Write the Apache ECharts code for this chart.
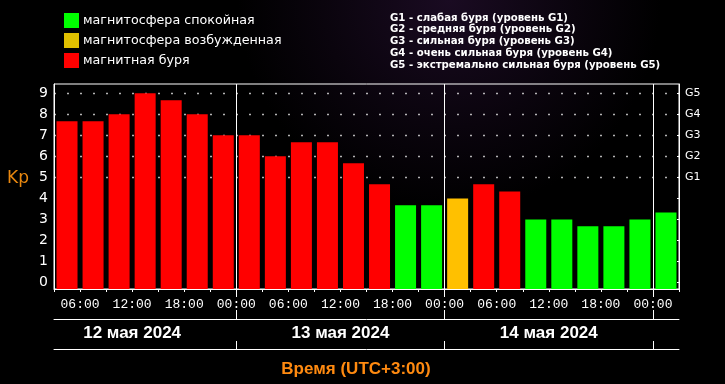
<!DOCTYPE html>
<html>
<head>
<meta charset="utf-8">
<script src="https://cdn.jsdelivr.net/npm/echarts@6/dist/echarts.min.js"></script>
<style>
html,body{margin:0;padding:0;background:#000;}
#chart{width:725px;height:384px;}
</style>
</head>
<body>
<div id="chart"></div>
<script>
// ---- data ----
const categories = [
  '2024-05-12T03:00','2024-05-12T06:00','2024-05-12T09:00','2024-05-12T12:00',
  '2024-05-12T15:00','2024-05-12T18:00','2024-05-12T21:00',
  '2024-05-13T00:00','2024-05-13T03:00','2024-05-13T06:00','2024-05-13T09:00',
  '2024-05-13T12:00','2024-05-13T15:00','2024-05-13T18:00','2024-05-13T21:00',
  '2024-05-14T00:00','2024-05-14T03:00','2024-05-14T06:00','2024-05-14T09:00',
  '2024-05-14T12:00','2024-05-14T15:00','2024-05-14T18:00','2024-05-14T21:00',
  '2024-05-15T00:00'
];
const kpValues = [
  7.67, 7.67, 8, 9, 8.67, 8, 7,
  7, 6, 6.67, 6.67, 5.67, 4.67, 3.67, 3.67,
  4, 4.67, 4.33, 3, 3, 2.67, 2.67, 3,
  3.33
];
const kpStatus = [
  'storm','storm','storm','storm','storm','storm','storm',
  'storm','storm','storm','storm','storm','storm','quiet','quiet',
  'active','storm','storm','quiet','quiet','quiet','quiet','quiet',
  'quiet'
];
const statusKeys = ['quiet','active','storm'];
const statusNames = ['магнитосфера спокойная','магнитосфера возбужденная','магнитная буря'];
const yTickLabels = ['0','1','2','3','4','5','6','7','8','9'];
const gLevelLabels = ['G1','G2','G3','G4','G5'];
const timeTickLabels = ['06:00','12:00','18:00','00:00','06:00','12:00','18:00','00:00','06:00','12:00','18:00','00:00'];
const dayLabels = ['12 мая 2024','13 мая 2024','14 мая 2024'];
const gLegendLines = [
  'G1 - слабая буря (уровень G1)',
  'G2 - средняя буря (уровень G2)',
  'G3 - сильная буря (уровень G3)',
  'G4 - очень сильная буря (уровень G4)',
  'G5 - экстремально сильная буря (уровень G5)'
];
const axisTitle = 'Время (UTC+3:00)';
const yName = 'Kp';

// ---- derived ----
const base = Date.parse('2024-05-12T00:00:00Z');
const toHour = s => (Date.parse(s + ':00Z') - base) / 3600000;
const startHours = categories.map(toHour);
const step = 3;
const xMin = startHours[0];
const xMax = startHours[startHours.length - 1] + step;
const yMin = -0.31, yMax = 9.44;
const yVals = yTickLabels.map(Number);
const gVals = gLevelLabels.map(g => Number(g.slice(1)) + 4);
const timeTickVals = timeTickLabels.map((_, i) => 6 * (i + 1));
const dayBounds = dayLabels.map((_, i) => 24 * (i + 1));
const dayCenters = dayLabels.map((_, i) => 24 * i + 12);

const colors = { quiet: '#00ff00', active: '#ffc000', storm: '#ff0000' };
const legendColors = { quiet: '#00ff00', active: '#e0c000', storm: '#ff0000' };

const WHITE = '#ffffff';
const grid0 = { left: 54, right: 46, top: 84, bottom: 95 };
const BAR_RATIO = 21 / 26.04;

const markLineData = []
  .concat(gVals.map(v => ({ yAxis: v, lineStyle: { type: [1.4, 11.6], dashOffset: -0.3, color: WHITE, width: 1.4 } })))
  .concat(dayBounds.map(v => ({ xAxis: v, lineStyle: { type: 'solid', color: WHITE, width: 1 } })));

function makeRender(color) {
  return function (params, api) {
    const x = api.value(0), v = api.value(1);
    const top = api.coord([x, v]);
    const bottom = api.coord([x, yMin]);
    const w = api.size([step, 0])[0] * BAR_RATIO;
    return {
      type: 'rect',
      shape: { x: top[0] - w / 2, y: top[1], width: w, height: bottom[1] - top[1] },
      style: { fill: color }
    };
  };
}

const series = statusKeys.map((key, si) => ({
  name: statusNames[si],
  type: 'custom',
  xAxisIndex: 0,
  yAxisIndex: 0,
  z: 4,
  clip: true,
  itemStyle: { color: colors[key] },
  renderItem: makeRender(colors[key]),
  encode: { x: 0, y: 1 },
  data: kpValues.map((v, i) => kpStatus[i] === key ? [startHours[i] + step / 2, v] : null).filter(d => d),
  markLine: si === 0 ? {
    silent: true, symbol: 'none', z: 1,
    label: { show: false },
    emphasis: { disabled: true },
    data: markLineData
  } : undefined
}));

const chart = echarts.init(document.getElementById('chart'), null, { renderer: 'canvas' });
chart.setOption({
  animation: false,
  backgroundColor: {
    type: 'radial', x: 0.62, y: 0.0, r: 0.55,
    colorStops: [{ offset: 0, color: '#1a0b22' }, { offset: 0.6, color: '#0a040d' }, { offset: 1, color: '#000000' }]
  },
  textStyle: { fontFamily: 'DejaVu Sans' },
  legend: {
    orient: 'vertical', left: 64, top: 13, padding: 0, itemGap: 5,
    itemWidth: 15, itemHeight: 15, icon: 'rect',
    selectedMode: false,
    textStyle: { color: WHITE, fontSize: 12.7, fontFamily: 'DejaVu Sans', padding: [0, 0, 0, -1] },
    data: statusKeys.map((k, i) => ({ name: statusNames[i], icon: 'rect', itemStyle: { color: legendColors[k] } }))
  },
  title: {
    text: gLegendLines.join('\n'),
    left: 390, top: 12, padding: 0,
    textStyle: { color: WHITE, fontSize: 11.3, fontWeight: 'bold', fontFamily: 'DejaVu Sans Condensed', lineHeight: 11.7 }
  },
  graphic: [
    { type: 'text', left: 7, top: 170, style: { text: yName, fill: '#e8870f', font: '17px "DejaVu Sans"' } },
    { type: 'text', x: 356, y: 369, style: { text: axisTitle, fill: '#ff8a10', font: 'bold 17px "Liberation Sans"', align: 'center', verticalAlign: 'middle' } }
  ],
  grid: [
    Object.assign({ show: true, borderColor: WHITE, borderWidth: 1, backgroundColor: 'transparent' }, grid0),
    { left: 54, right: 46, top: 319, height: 30 }
  ],
  xAxis: [
    {
      type: 'value', gridIndex: 0, position: 'bottom', min: xMin, max: xMax, interval: step,
      axisLine: { show: true, onZero: false, lineStyle: { color: WHITE } },
      axisTick: { show: true, length: 3, lineStyle: { color: WHITE } },
      axisLabel: {
        show: true, customValues: timeTickVals, margin: 9,
        formatter: v => timeTickLabels[timeTickVals.indexOf(v)] || '',
        color: WHITE, fontSize: 13, fontFamily: 'Liberation Mono'
      },
      splitLine: { show: false }
    },
    {
      type: 'value', gridIndex: 0, position: 'bottom', min: xMin, max: xMax,
      axisLine: { show: false, onZero: false },
      axisTick: { show: true, customValues: dayBounds, length: 8, lineStyle: { color: WHITE } },
      axisLabel: { show: false },
      splitLine: { show: false }
    },
    {
      type: 'value', gridIndex: 1, position: 'top', min: xMin, max: xMax,
      axisLine: { show: true, onZero: false, lineStyle: { color: WHITE } },
      axisTick: { show: true, customValues: dayBounds, length: 9, lineStyle: { color: WHITE } },
      axisLabel: { show: false },
      splitLine: { show: false }
    },
    {
      type: 'value', gridIndex: 1, position: 'bottom', min: xMin, max: xMax,
      axisLine: { show: true, onZero: false, lineStyle: { color: WHITE } },
      axisTick: { show: true, inside: true, customValues: dayBounds, length: 8, lineStyle: { color: WHITE } },
      axisLabel: {
        show: true, inside: true, customValues: dayCenters, margin: 7,
        formatter: v => dayLabels[dayCenters.indexOf(v)] || '',
        color: WHITE, fontSize: 17, fontWeight: 'bold', fontFamily: 'Liberation Sans'
      },
      splitLine: { show: false }
    }
  ],
  yAxis: [
    {
      type: 'value', gridIndex: 0, position: 'left', min: yMin, max: yMax,
      axisLine: { show: true, onZero: false, lineStyle: { color: WHITE } },
      axisTick: { show: false },
      axisLabel: {
        show: true, customValues: yVals, margin: 6,
        formatter: v => yTickLabels[yVals.indexOf(v)],
        color: WHITE, fontSize: 14, fontFamily: 'DejaVu Sans'
      },
      splitLine: { show: false }
    },
    {
      type: 'value', gridIndex: 0, position: 'right', min: yMin, max: yMax,
      axisLine: { show: true, onZero: false, lineStyle: { color: WHITE } },
      axisTick: { show: true, inside: true, length: 2, customValues: yVals, lineStyle: { color: WHITE } },
      axisLabel: {
        show: true, customValues: gVals, margin: 6,
        formatter: v => gLevelLabels[gVals.indexOf(v)],
        color: WHITE, fontSize: 11, fontFamily: 'DejaVu Sans'
      },
      splitLine: { show: false }
    },
    { type: 'value', gridIndex: 1, show: false, min: 0, max: 1 }
  ],
  series: series
});
</script>
</body>
</html>
